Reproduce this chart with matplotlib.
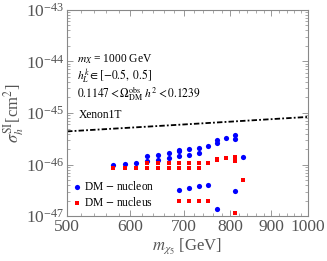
import numpy as np
import matplotlib
matplotlib.use("Agg")
import matplotlib.pyplot as plt
from matplotlib.ticker import FixedLocator, NullFormatter, LogLocator

plt.rcParams['font.family'] = ['Liberation Serif', 'DejaVu Serif']
plt.rcParams['mathtext.fontset'] = 'stix'

# DM - nucleon (blue)
nucleon_m = [570, 590, 610, 630, 630, 650, 650, 670, 670, 690, 690, 690,
             710, 710, 730, 730, 750, 770, 770, 790, 810, 810, 830,
             690, 710, 730, 750, 770, 810]
nucleon_s = [9.8e-47, 1.02e-46, 1.08e-46, 1.46e-46, 1.17e-46, 1.55e-46, 1.22e-46,
             1.65e-46, 1.34e-46, 1.9e-46, 1.8e-46, 1.46e-46,
             1.97e-46, 1.53e-46, 2.12e-46, 1.69e-46, 2.32e-46, 2.99e-46, 2.65e-46,
             3.23e-46, 3.74e-46, 3.13e-46, 1.42e-46,
             3.2e-47, 3.45e-47, 3.83e-47, 4.05e-47, 1.39e-47, 3.06e-47]

# DM - nucleus (red)
nucleus_m = [570, 590, 610, 630, 630, 650, 650, 670, 670, 690, 690,
             710, 710, 730, 730, 750, 770, 770, 790, 810, 810, 830,
             690, 710, 730, 750, 810]
nucleus_s = [8.7e-47, 8.7e-47, 8.7e-47, 8.7e-47, 1.07e-46, 8.7e-47, 1.07e-46,
             8.7e-47, 1.07e-46, 8.7e-47, 1.07e-46, 8.7e-47, 1.07e-46,
             8.7e-47, 1.07e-46, 1.08e-46, 1.22e-46, 1.30e-46, 1.32e-46,
             1.42e-46, 1.17e-46, 5.0e-47,
             1.96e-47, 1.96e-47, 1.96e-47, 1.96e-47, 1.16e-47]

# Xenon1T limit
xenon_m = [500, 600, 700, 800, 900, 1000]
xenon_s = [4.4e-46, 5.2e-46, 6.0e-46, 6.8e-46, 7.6e-46, 8.4e-46]

xticks = [500, 600, 700, 800, 900, 1000]

fig = plt.figure(figsize=(3.27, 2.61), dpi=100)
ax = fig.add_axes([0.205, 0.172, 0.737, 0.79])

ax.plot(xenon_m, xenon_s, color='black', lw=1.3, dashes=[3, 1.2, 1, 1.2])
ax.scatter(nucleon_m, nucleon_s, s=14, marker='o', color='#0000ff', lw=0,
           label='DM $-$ nucleon', zorder=3)
ax.scatter(nucleus_m, nucleus_s, s=12, marker='s', color='#ff0000', lw=0,
           label='DM $-$ nucleus', zorder=3)

ax.set_xscale('log')
ax.set_yscale('log')
ax.set_xlim(500, 1000)
ax.set_ylim(1e-47, 1e-43)

ax.xaxis.set_major_locator(FixedLocator(xticks))
ax.xaxis.set_minor_locator(FixedLocator(np.arange(520, 1000, 20)))
ax.xaxis.set_minor_formatter(NullFormatter())
ax.set_xticklabels([str(v) for v in xticks])
ax.yaxis.set_major_locator(LogLocator(base=10, numticks=10))
ax.yaxis.set_minor_locator(LogLocator(base=10, subs=np.arange(2, 10), numticks=10))
ax.yaxis.set_minor_formatter(NullFormatter())

grey = '#888888'
for s in ax.spines.values():
    s.set_color(grey)
    s.set_linewidth(0.8)
ax.tick_params(which='both', direction='in', top=True, right=True, color=grey,
               labelcolor='#555555', labelsize=12.5, pad=2)
ax.tick_params(which='major', length=4, width=0.6)
ax.tick_params(which='minor', length=2, width=0.5)

ax.set_xlabel(r'$m_{\chi_5}$ [GeV]', fontsize=12, color='#555555', labelpad=1)
ax.set_ylabel(r'$\sigma_h^{\rm SI}$[cm$^2$]', fontsize=12, color='#555555', labelpad=0)

ax.text(0.04, 0.745, r'$m_X$ = 1000 GeV', transform=ax.transAxes, fontsize=8.3)
ax.text(0.04, 0.66, r'$h_L^k \in [-0.5,\ 0.5]$', transform=ax.transAxes, fontsize=8.3)
ax.text(0.04, 0.575, r'$0.1147 < \Omega_{\rm DM}^{\rm obs}\ h^2 < 0.1239$',
        transform=ax.transAxes, fontsize=8.3)
ax.text(0.05, 0.475, 'Xenon1T', transform=ax.transAxes, fontsize=8.3)

ax.legend(loc='lower left', fontsize=8.3, frameon=False, handletextpad=0.1,
          handlelength=1.0, borderaxespad=0.2, labelspacing=0.3,
          bbox_to_anchor=(-0.01, 0.0))

fig.savefig('out.png', dpi=100)
